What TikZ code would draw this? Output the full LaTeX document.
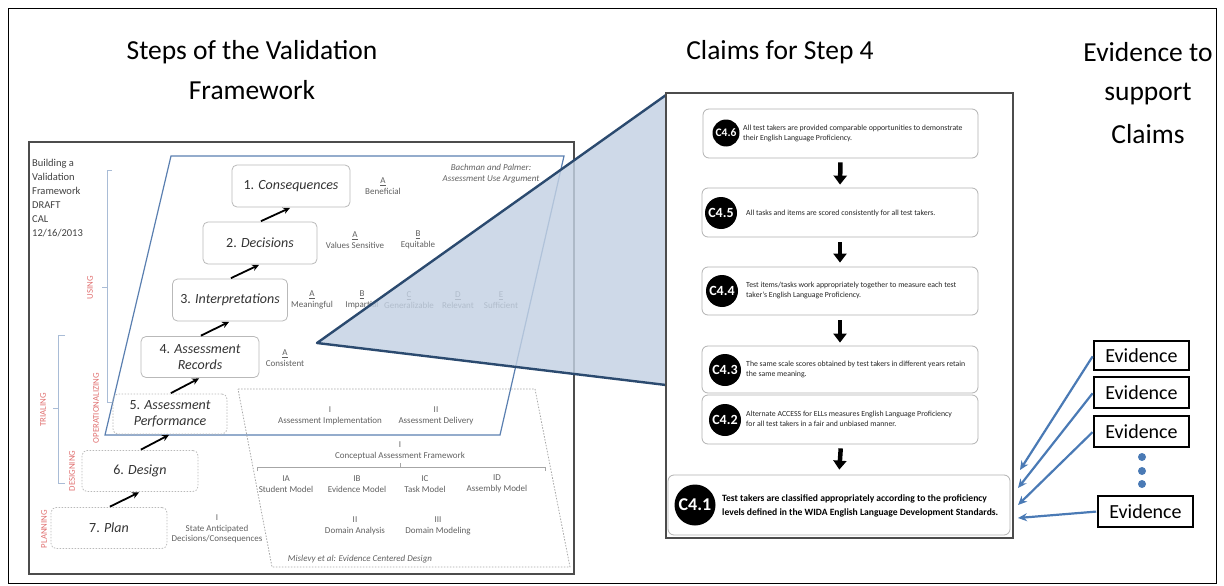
\documentclass[tikz,border=0pt]{standalone}
\usepackage{fontspec}
\setmainfont{Carlito}
\usetikzlibrary{arrows.meta}
\definecolor{tri}{HTML}{C3D1E3}
\definecolor{trib}{HTML}{2B4A6F}
\definecolor{pblue}{HTML}{5A7FB0}
\definecolor{brk}{HTML}{A9BCD6}
\definecolor{phase}{HTML}{E07070}
\definecolor{evb}{HTML}{4A7AB5}
\begin{document}
\begin{tikzpicture}[x=1pt,y=-1pt,
  title/.style={font=\fontsize{27.5}{34}\selectfont, align=center, inner sep=0pt},
  stepbox/.style={draw=gray!55, rounded corners=5pt, line width=0.8pt, font=\fontsize{14}{16}\selectfont, align=center, inner sep=0pt, text=black!80},
  dstep/.style={stepbox, dash pattern=on 1.5pt off 1.5pt},
  sub/.style={font=\fontsize{9}{10.5}\selectfont, text=gray!75!black, align=center, inner sep=0pt},
  phase/.style={font=\fontsize{8.8}{9}\selectfont, text=phase, rotate=90, inner sep=0pt},
  steparrow/.style={-{Stealth[length=7pt,width=6.5pt]}, line width=1.8pt, shorten >=1pt, shorten <=1pt},
  brack/.style={draw=brk, line width=0.8pt},
  claimbox/.style={draw=gray!60, rounded corners=6pt, line width=0.8pt, inner sep=0pt},
  cnum/.style={circle, fill=black, text=white, font=\bfseries\fontsize{14}{14}\selectfont, inner sep=0pt, minimum size=32pt},
  ctext/.style={font=\fontsize{7.8}{10}\selectfont, align=left, anchor=west, inner sep=0pt, text=gray!30!black},
  downarrow/.style={-{Triangle[width=13pt,length=9pt]}, line width=4.5pt},
  evbox/.style={draw=black, line width=1.6pt, font=\fontsize{20}{20}\selectfont, inner sep=0pt, minimum width=95pt, minimum height=29pt},
  evarrow/.style={-{Stealth[length=9pt,width=8pt]}, line width=2.2pt, draw=evb, shorten <=1pt}
]
\useasboundingbox (0,0) rectangle (1224,586);
% outer frame
\draw[line width=1pt] (8,9) rectangle (1216,583);

% titles
\node[title] (t1) at (252,52) {Steps of the Validation};
\node[title] (t2) at (252,90) {Framework};
\node[title] (t3) at (780,52) {Claims for Step 4};
\node[title] (t4) at (1148,52) {Evidence to};
\node[title] (t5) at (1148,94) {support};
\node[title] (t6) at (1148,134) {Claims};

% left panel
\draw[draw=gray!60!black, line width=1.3pt] (29,142) rectangle (574,574);
\node[anchor=north west, align=left, inner sep=0pt, font=\fontsize{10.5}{14}\selectfont, text=black!75] (info) at (32,159)
  {Building a\\Validation\\Framework\\DRAFT\\CAL\\12/16/2013};

% brackets
\draw[brack] (112,170) -- (107,170) -- (107,402) -- (112,402);
\draw[brack] (107,287) -- (102,287);
\draw[brack] (65,335) -- (58,335) -- (58,483) -- (65,483);
\draw[brack] (58,408) -- (53,408);

% phase labels
\node[phase] (pu) at (90,288) {USING};
\node[phase] (pt) at (43,410) {TRIALING};
\node[phase] (po) at (96,408) {OPERATIONALIZING};
\node[phase] (pd) at (72,471) {DESIGNING};
\node[phase] (pp) at (44,529) {PLANNING};

% blue parallelogram (AUA)
\draw[draw=pblue, line width=1.2pt] (105,435) -- (500,435) -- (564,156) -- (171,156) -- cycle;
\node[sub, font=\itshape\fontsize{9}{11}\selectfont] (bp) at (491,174) {Bachman and Palmer:\\Assessment Use Argument};

% dashed ECD parallelogram
\draw[draw=gray!70, line width=0.8pt, dash pattern=on 1.5pt off 1.5pt] (238,389) -- (535,389) -- (570,567) -- (272,567) -- cycle;

% step boxes
\node[stepbox, minimum width=118pt, minimum height=42pt] (b1) at (291,186) {1. \textit{Consequences}};
\node[stepbox, minimum width=114pt, minimum height=42pt] (b2) at (260,243) {2. \textit{Decisions}};
\node[stepbox, minimum width=115pt, minimum height=42pt] (b3) at (230,300) {3. \textit{Interpretations}};
\node[stepbox, minimum width=118pt, minimum height=41pt] (b4) at (200,357) {4. \textit{Assessment}\\\textit{Records}};
\node[dstep, minimum width=114pt, minimum height=40pt] (b5) at (170,414) {5. \textit{Assessment}\\\textit{Performance}};
\node[dstep, minimum width=116pt, minimum height=41pt] (b6) at (140,471) {6. \textit{Design}};
\node[dstep, minimum width=116pt, minimum height=41pt] (b7) at (109,528) {7. \textit{Plan}};

\draw[steparrow] (b2.north) -- (b1.south);
\draw[steparrow] (b3.north) -- (b2.south);
\draw[steparrow] (b4.north) -- (b3.south);
\draw[steparrow] (b5.north) -- (b4.south);
\draw[steparrow] (b6.north) -- (b5.south);
\draw[steparrow] (b7.north) -- (b6.south);

% sub-criteria
\node[sub] (s1a) at (383,186) {\underline{A}\\Beneficial};
\node[sub] (s2a) at (355,240) {\underline{A}\\Values Sensitive};
\node[sub] (s2b) at (418,240) {\underline{B}\\Equitable};
\node[sub] (s3a) at (312,300) {\underline{A}\\Meaningful};
\node[sub] (s3b) at (362,300) {\underline{B}\\Impartial};
\node[sub] (s3c) at (409,300) {\underline{C}\\Generalizable};
\node[sub] (s3d) at (458,300) {\underline{D}\\Relevant};
\node[sub] (s3e) at (501,300) {\underline{E}\\Sufficient};
\node[sub] (s4a) at (285,358) {\underline{A}\\Consistent};

\node[sub] (e1) at (330,416) {I\\Assessment Implementation};
\node[sub] (e2) at (436,416) {II\\Assessment Delivery};
\node[sub] (e3) at (400,451) {I\\Conceptual Assessment Framework};
\draw[draw=gray!70, line width=0.7pt] (257,471) -- (257,467) -- (545,467) -- (545,471);
\draw[draw=gray!70, line width=0.7pt] (400,467) -- (400,463);
\node[sub] (e4) at (286,484) {IA\\Student Model};
\node[sub] (e5) at (357,484) {IB\\Evidence Model};
\node[sub] (e6) at (425,484) {IC\\Task Model};
\node[sub] (e7) at (497,484) {ID\\Assembly Model};
\node[sub] (e8) at (217,529) {I\\State Anticipated\\Decisions/Consequences};
\node[sub] (e9) at (355,526) {II\\Domain Analysis};
\node[sub] (e10) at (438,526) {III\\Domain Modeling};
\node[sub, font=\itshape\fontsize{9}{10}\selectfont] (e11) at (360,559) {Mislevy et al: Evidence Centered Design};

% zoom triangle
\coordinate (apex) at (317,343);
\coordinate (ztop) at (666,95);
\coordinate (zbot) at (666,385);
\fill[tri, fill opacity=0.82] (apex) -- (ztop) -- (zbot) -- cycle;
\draw[draw=trib, line width=2.4pt, line join=round] (ztop) -- (apex) -- (zbot);

% claims panel
\draw[draw=gray!60!black, fill=white, line width=1.4pt] (666,93) rectangle (1013,538);

\node[claimbox, minimum width=275pt, minimum height=49pt] (b46) at (840.5,133.5) {};
\node[claimbox, minimum width=276pt, minimum height=49pt] (b45) at (840,212.5) {};
\node[claimbox, minimum width=276pt, minimum height=48pt] (b44) at (840,291) {};
\node[claimbox, minimum width=276pt, minimum height=47pt] (b43) at (840,369.5) {};
\node[claimbox, minimum width=276pt, minimum height=49pt] (b42) at (840,419.5) {};
\node[claimbox, minimum width=342pt, minimum height=60pt] (b41) at (839,505) {};

\node[cnum, minimum size=27pt, font=\bfseries\fontsize{11.5}{12}\selectfont] (c46) at (726,133) {C4.6};
\node[cnum] (c45) at (721,213) {C4.5};
\node[cnum] (c44) at (722,291) {C4.4};
\node[cnum] (c43) at (725,370) {C4.3};
\node[cnum] (c42) at (725,420) {C4.2};
\node[cnum, minimum size=41pt, font=\bfseries\fontsize{18}{18}\selectfont] (c41) at (695,505) {C4.1};

\node[ctext] (x46) at (743,133) {All test takers are provided comparable opportunities to demonstrate\\their English Language Proficiency.};
\node[ctext] (x45) at (746,213) {All tasks and items are scored consistently for all test takers.};
\node[ctext] (x44) at (746,290) {Test items/tasks work appropriately together to measure each test\\taker's English Language Proficiency.};
\node[ctext] (x43) at (746,369) {The same scale scores obtained by test takers in different years retain\\the same meaning.};
\node[ctext] (x42) at (746,419) {Alternate ACCESS for ELLs measures English Language Proficiency\\for all test takers in a fair and unbiased manner.};
\node[ctext, font=\bfseries\fontsize{9.6}{14}\selectfont, text=black] (x41) at (722,506) {Test takers are classified appropriately according to the proficiency\\levels defined in the WIDA English Language Development Standards.};

\draw[downarrow, shorten <=4pt, shorten >=3pt] (b46.south) -- (b45.north);
\draw[downarrow, shorten <=5pt, shorten >=4pt] (b45.south) -- (b44.north);
\draw[downarrow, shorten <=5pt, shorten >=3pt] (b44.south) -- (b43.north);
\draw[downarrow, shorten <=4pt, shorten >=5pt] ([xshift=1pt]b42.south) -- (b41.north);

% evidence
\node[evbox] (v1) at (1141.5,355.5) {Evidence};
\node[evbox, minimum height=31pt] (v2) at (1141.5,392.5) {Evidence};
\node[evbox, minimum height=31pt] (v3) at (1141.5,431.5) {Evidence};
\node[evbox, minimum height=31pt] (v4) at (1145.5,511.5) {Evidence};
\fill[evb] (1142,457) circle (4pt) (1142,471) circle (4pt) (1142,484) circle (4pt);
\coordinate (a1) at (1020,470);
\coordinate (a2) at (1018,488);
\coordinate (a3) at (1018,505);
\coordinate (a4) at (1018,518);
\draw[evarrow] (v1.west) -- (a1);
\draw[evarrow] (v2.west) -- (a2);
\draw[evarrow] (v3.west) -- (a3);
\draw[evarrow] (v4.west) -- (a4);
\end{tikzpicture}
\end{document}
